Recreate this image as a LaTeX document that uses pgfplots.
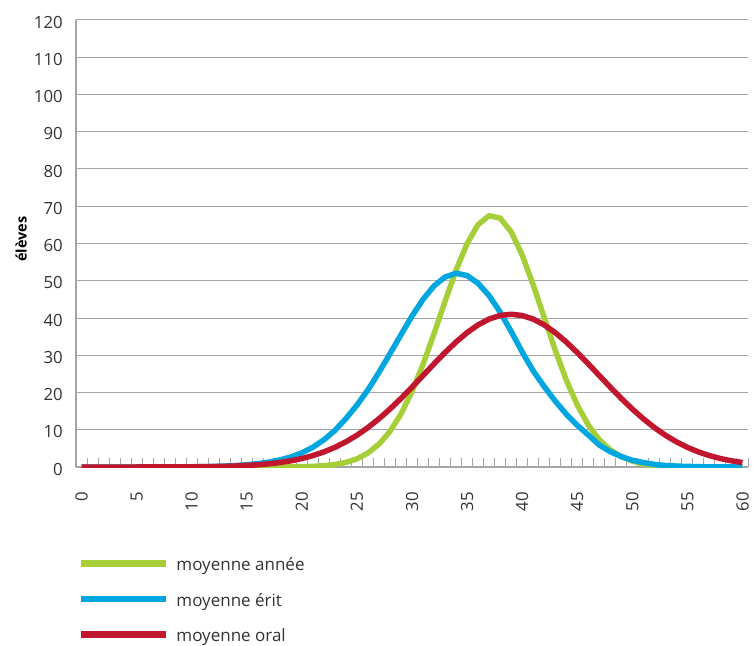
\documentclass[border=0pt]{standalone}
\usepackage{fontspec}
\setmainfont{Open Sans}
\usepackage{pgfplots}
\pgfplotsset{compat=1.18}
\usepackage{pgfplotstable}
\definecolor{cgreen}{RGB}{166,206,57}
\definecolor{cblue}{RGB}{0,166,224}
\definecolor{cred}{RGB}{193,23,46}
\definecolor{cgrid}{RGB}{165,165,165}
\definecolor{ctext}{RGB}{51,51,51}

\pgfplotstableread{
x g b r
0 0 0 0
1 0 0 0
2 0 0 0
3 0 0 0
4 0 0 0
5 0 0 0
6 0 0 0.01
7 0 0 0.01
8 0 0.01 0.02
9 0 0.02 0.03
10 0 0.06 0.05
11 0 0.1 0.08
12 0 0.15 0.12
13 0 0.25 0.18
14 0 0.4 0.27
15 0 0.6 0.41
16 0.01 0.9 0.59
17 0.01 1.3 0.85
18 0.02 1.9 1.20
19 0.04 2.7 1.66
20 0.08 3.8 2.27
21 0.17 5.3 3.06
22 0.34 7.3 4.05
23 0.66 9.8 5.27
24 1.23 13.0 6.76
25 2.20 16.6 8.53
26 3.76 20.7 10.59
27 6.12 25.4 12.94
28 9.55 30.4 15.55
29 14.22 35.5 18.40
30 20.24 40.5 21.43
31 27.53 45.0 24.55
32 35.80 48.6 27.69
33 44.48 51.0 30.73
34 52.83 52.0 33.56
35 59.97 51.4 36.07
36 65.07 49.3 38.15
37 67.47 46.0 39.71
38 66.82 41.6 40.67
39 63.14 36.4 41.00
40 56.91 30.9 40.67
41 48.92 25.8 39.71
42 40.11 21.6 38.15
43 31.37 17.7 36.07
44 23.40 14.2 33.56
45 16.66 11.2 30.73
46 11.30 8.6 27.69
47 7.31 5.9 24.55
48 4.60 4.1 21.43
49 2.80 2.8 18.40
50 1.60 1.8 15.55
51 0.80 1.2 12.94
52 0.41 0.7 10.59
53 0.20 0.4 8.53
54 0.09 0.25 6.76
55 0.04 0.15 5.27
56 0.02 0.1 4.05
57 0.01 0.05 3.06
58 0.01 0.03 2.27
59 0 0.02 1.66
60 0 0.01 1.20
}\data

\begin{document}
\begin{tikzpicture}
\begin{axis}[
  scale only axis, width=672bp, height=447bp,
  xmin=-0.5, xmax=60.5, ymin=0, ymax=120,
  axis x line=bottom, axis y line=left,
  axis line style={-, draw=cgrid, line width=1.2bp},
  xtick={0,5,...,60}, minor xtick={-0.5,0.5,...,60.5},
  ytick={0,10,...,120},
  major tick length=0pt, minor tick length=9bp,
  tick align=inside,
  minor tick style={draw=cgrid, line width=1bp},
  ymajorgrids, grid style={draw=cgrid, line width=1bp},
  tick label style={font=\fontsize{16.8bp}{20bp}\selectfont, text=ctext},
  /pgf/number format/assume math mode=true,
  xticklabel style={rotate=90, anchor=east, inner sep=0pt},
  xticklabel shift=25bp,
  yticklabel style={anchor=east, inner sep=0pt, yshift=-2bp},
  yticklabel shift=13bp,
  ylabel={élèves},
  ylabel style={at={(axis description cs:-0.0818,0.51)}, anchor=center, font=\fontsize{14.5bp}{16bp}\selectfont\bfseries, text=black},
  legend style={at={(axis description cs:0,0)}, anchor=north west, xshift=2bp, yshift=-91.7bp,
    draw=none, fill=none, inner sep=0pt, outer sep=0pt, row sep=19.5bp,
    nodes={inner sep=0pt, text height=12bp, text depth=4bp, font=\fontsize{17bp}{20bp}\selectfont, text=ctext},
    /tikz/every odd column/.append style={column sep=7bp}},
  legend cell align=left,
  legend image code/.code={\draw[#1, line width=6.5bp] (0bp,3.4bp) -- (85bp,3.4bp);},
  every axis plot/.append style={line width=5.5bp, line join=round, no markers},
]
\addplot[cgreen] table[x=x,y=g]{\data};
\addlegendentry{moyenne année}
\addplot[cblue] table[x=x,y=b]{\data};
\addlegendentry{moyenne érit}
\addplot[cred] table[x=x,y=r]{\data};
\addlegendentry{moyenne oral}
\end{axis}
\pgfresetboundingbox
\path[use as bounding box] (-76bp,-179bp) rectangle (679bp,467bp);
\end{tikzpicture}
\end{document}
